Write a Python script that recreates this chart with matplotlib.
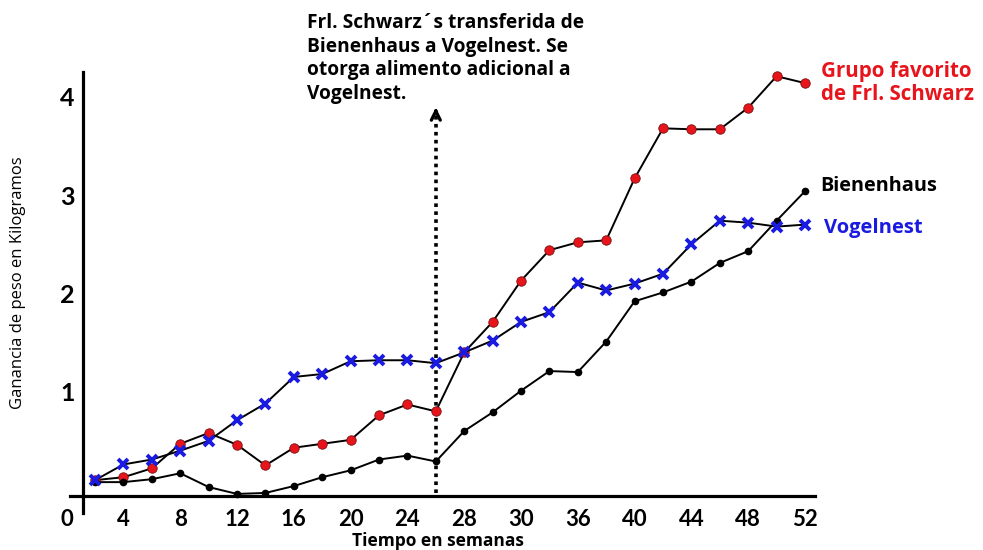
import matplotlib
matplotlib.use("Agg")
from matplotlib import pyplot as plt

plt.rcParams["font.family"] = ["Lato", "DejaVu Sans"]

# weight gain per group, every two weeks
semanas = list(range(2, 53, 2))
favorito = [0.10, 0.13, 0.22, 0.47, 0.58, 0.46, 0.25, 0.43, 0.47, 0.51, 0.76, 0.87, 0.80,
            1.40, 1.71, 2.13, 2.44, 2.52, 2.54, 3.17, 3.68, 3.67, 3.67, 3.89, 4.21, 4.14]
vogelnest = [0.10, 0.26, 0.31, 0.40, 0.50, 0.71, 0.88, 1.15, 1.18, 1.31, 1.32, 1.32, 1.29,
             1.40, 1.52, 1.71, 1.81, 2.11, 2.03, 2.10, 2.20, 2.50, 2.74, 2.72, 2.68, 2.70]
bienenhaus = [0.08, 0.08, 0.11, 0.17, 0.03, -0.04, -0.03, 0.04, 0.13, 0.20, 0.31, 0.35, 0.29,
              0.60, 0.79, 1.01, 1.21, 1.20, 1.51, 1.92, 2.01, 2.12, 2.31, 2.43, 2.74, 3.04]

xticks = list(range(0, 53, 4))
xticklabels = ["0", "4", "8", "12", "16", "20", "24", "28", "30", "36", "40", "44", "48", "52"]
yticks = [1, 2, 3, 4]
semana_cambio = 26
tope_flecha = 3.92

ROJO = "#e8141c"
AZUL = "#1a1ae0"
texto = ["Open Sans", "DejaVu Sans"]

fig = plt.figure(figsize=(9.83, 5.5), dpi=100)
ax = fig.add_axes([0.0678, 0.0555, 0.780, 0.822])
ax.set_xlim(0, 54)
ax.set_ylim(-0.3, 4.3)

ax.plot(semanas, favorito, color="black", lw=1.4, marker="o", ms=6.8,
        mfc=ROJO, mec="#7a1010", mew=0.6, zorder=3)
ax.plot(semanas, bienenhaus, color="black", lw=1.4, marker="o", ms=4.5,
        mfc="black", mec="black", zorder=3)
ax.plot(semanas, vogelnest, color="black", lw=1.4, marker="x", ms=7,
        mec=AZUL, mew=2.8, zorder=4)

# dotted line marking the transfer, with an open arrow head
ax.plot([semana_cambio, semana_cambio], [-0.03, tope_flecha - 0.06], color="black",
        lw=2.6, ls=(0, (1, 1.2)), zorder=2)
ax.annotate("", xy=(semana_cambio, tope_flecha), xytext=(semana_cambio, tope_flecha - 0.12),
            arrowprops=dict(arrowstyle="->", lw=2.4, color="black", mutation_scale=16))

for s in ["top", "right"]:
    ax.spines[s].set_visible(False)
ax.spines["bottom"].set_position(("data", -0.06))
ax.spines["bottom"].set_bounds(0.25, 52.7)
ax.spines["bottom"].set_linewidth(2.3)
ax.spines["left"].set_position(("data", 1.15))
ax.spines["left"].set_bounds(-0.23, 4.25)
ax.spines["left"].set_linewidth(2.3)

ax.set_xticks(xticks)
ax.set_xticklabels(xticklabels, fontsize=16, fontweight="bold")
ax.set_yticks(yticks)
ax.set_yticklabels([str(v) for v in yticks], fontsize=18, fontweight="bold")
ax.tick_params(axis="x", length=0, pad=9.5)
ax.tick_params(axis="y", length=0, pad=6)

fig.text(18 / 983, 1 - 283 / 550, "Ganancia de peso en Kilogramos", rotation=90,
         ha="center", va="center", fontsize=12, fontweight="medium", family=texto)
fig.text(438 / 983, 1 - 541 / 550, "Tiempo en semanas", ha="center", va="center",
         fontsize=12.5, fontweight="bold", family=texto)

fig.text(307 / 983, 1 - 13 / 550,
         "Frl. Schwarz´s transferida de\nBienenhaus a Vogelnest. Se\n"
         "otorga alimento adicional a\nVogelnest.",
         ha="left", va="top", fontsize=13.8, fontweight="bold", linespacing=1.25,
         family=texto)

fig.text(821 / 983, 1 - 61 / 550, "Grupo favorito\nde Frl. Schwarz", ha="left", va="top",
         fontsize=14.8, fontweight="bold", color=ROJO, linespacing=1.12, family=texto)
fig.text(820 / 983, 1 - 186 / 550, "Bienenhaus", ha="left", va="center",
         fontsize=14.3, fontweight="bold", color="black", family=texto)
fig.text(824 / 983, 1 - 228 / 550, "Vogelnest", ha="left", va="center",
         fontsize=14.5, fontweight="bold", color=AZUL, family=texto)

fig.savefig("out.png", dpi=100)
